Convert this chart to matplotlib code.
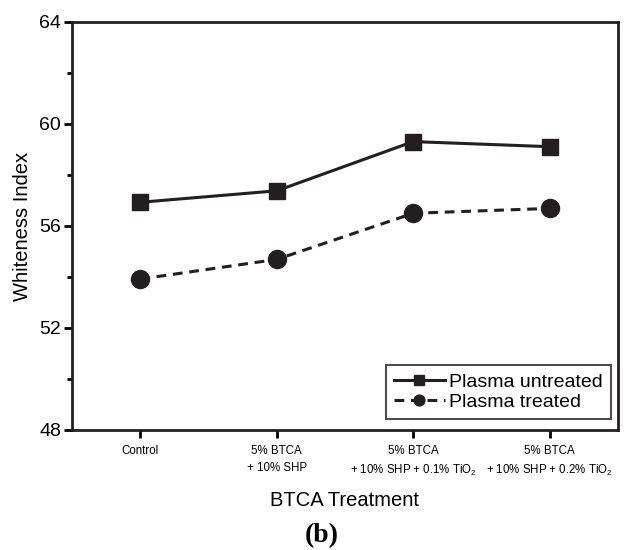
import matplotlib
matplotlib.use("Agg")
import matplotlib.pyplot as plt
from matplotlib.ticker import MultipleLocator

plt.rcParams['font.family'] = ['Liberation Sans', 'DejaVu Sans']
plt.rcParams['mathtext.default'] = 'regular'

# data
treatments = [
    "Control",
    "5% BTCA\n+ 10% SHP",
    "5% BTCA\n+ 10% SHP + 0.1% TiO$_2$",
    "5% BTCA\n+ 10% SHP + 0.2% TiO$_2$",
]
untreated = [56.93, 57.38, 59.31, 59.11]
treated = [53.92, 54.69, 56.5, 56.69]

fig = plt.figure(figsize=(6.35, 5.5), dpi=100)
ax = fig.add_axes([72 / 635, 1 - 430 / 550, 546 / 635, 408 / 550])

x = range(len(treatments))
ax.plot(x, untreated, color="#231f20", linestyle="-", linewidth=2.2,
        marker="s", markersize=12, label="Plasma untreated")
ax.plot(x, treated, color="#231f20", linestyle=(0, (3.2, 2.2)), linewidth=2.2,
        marker="o", markersize=13, label="Plasma treated")

ax.set_xlim(-0.5, 3.5)
ax.set_ylim(48, 64)
ax.set_xticks(list(x))
ax.set_xticklabels(treatments, fontsize=8.3, linespacing=1.6)
ax.yaxis.set_major_locator(MultipleLocator(4))
ax.yaxis.set_minor_locator(MultipleLocator(2))
ax.tick_params(axis="y", labelsize=14, width=2, length=6, direction="out", pad=2)
ax.tick_params(axis="y", which="minor", width=2, length=3.5)
ax.tick_params(axis="x", width=2, length=5.5, direction="out", pad=5)
for s in ax.spines.values():
    s.set_linewidth(2)
    s.set_color("#231f20")

ax.set_ylabel("Whiteness Index", fontsize=14.5)
ax.yaxis.set_label_coords(-0.073, 0.5)
ax.set_xlabel("BTCA Treatment", fontsize=14.5, labelpad=9)

leg = ax.legend(loc="lower right", bbox_to_anchor=(0.987, 0.027), fontsize=14,
                frameon=True, fancybox=False, edgecolor="#231f20",
                handlelength=2.6, handletextpad=0.25, borderpad=0.4,
                labelspacing=0.15, borderaxespad=0, markerscale=0.6)
leg.get_frame().set_linewidth(1.5)

fig.text(0.507, 0.0255, "(b)", fontsize=20, fontweight="bold",
         family="Liberation Serif", ha="center", va="center")

fig.savefig("out.png", dpi=100)
